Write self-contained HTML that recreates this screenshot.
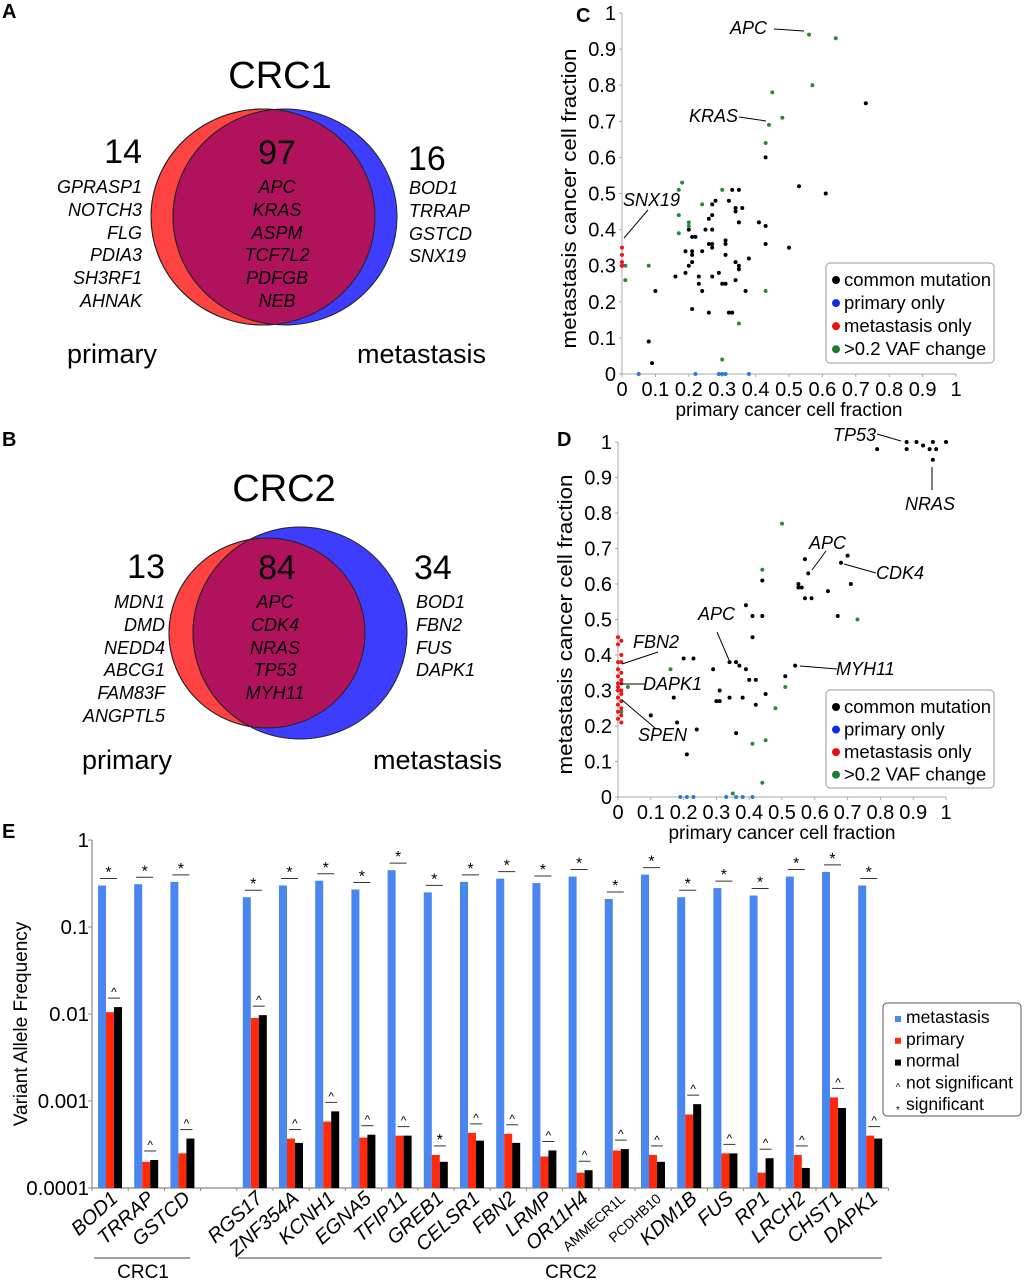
<!DOCTYPE html>
<html><head><meta charset="utf-8"><style>
html,body{margin:0;padding:0;background:#fff;}
svg{display:block;font-family:"Liberation Sans",Arial,sans-serif;}
.it{font-style:italic;}
</style></head><body>
<svg id="fig" width="1032" height="1280" viewBox="0 0 1032 1280" xmlns="http://www.w3.org/2000/svg">
<text x="2" y="18" font-size="20" font-weight="bold">A</text>
<text x="2" y="446" font-size="20" font-weight="bold">B</text>
<text x="576" y="22" font-size="20" font-weight="bold">C</text>
<text x="557" y="446" font-size="20" font-weight="bold">D</text>
<text x="2" y="838" font-size="20" font-weight="bold">E</text>

<g>
<defs>
<clipPath id="clipR1"><ellipse cx="263" cy="217" rx="112" ry="108"/></clipPath>
<clipPath id="clipR2"><ellipse cx="267" cy="633" rx="98" ry="95"/></clipPath>
</defs>
<ellipse cx="263" cy="217" rx="112" ry="108" fill="#ff4242" stroke="#222" stroke-width="1"/>
<ellipse cx="285" cy="217" rx="112" ry="108" fill="#3d3dff" stroke="#222" stroke-width="1"/>
<ellipse cx="285" cy="217" rx="112" ry="108" fill="#b0125e" stroke="#222" stroke-width="1" clip-path="url(#clipR1)"/>
<ellipse cx="263" cy="217" rx="112" ry="108" fill="none" stroke="#222" stroke-width="1"/>
<text x="280" y="88" font-size="38" text-anchor="middle">CRC1</text>
<text x="142" y="163" font-size="34" text-anchor="end">14</text>
<text x="277" y="164" font-size="34" text-anchor="middle">97</text>
<text x="408" y="170" font-size="34">16</text>
<g class="it" font-size="18" text-anchor="end">
<text x="142" y="193">GPRASP1</text><text x="142" y="216">NOTCH3</text><text x="142" y="239">FLG</text><text x="142" y="261">PDIA3</text><text x="142" y="284">SH3RF1</text><text x="142" y="307">AHNAK</text></g>
<g class="it" font-size="18" text-anchor="middle">
<text x="277" y="193">APC</text><text x="277" y="216">KRAS</text><text x="277" y="239">ASPM</text><text x="277" y="261">TCF7L2</text><text x="277" y="284">PDFGB</text><text x="277" y="307">NEB</text></g>
<g class="it" font-size="18">
<text x="409" y="194">BOD1</text><text x="409" y="217">TRRAP</text><text x="409" y="240">GSTCD</text><text x="409" y="262">SNX19</text></g>
<text x="67" y="363" font-size="27">primary</text>
<text x="357" y="363" font-size="27">metastasis</text>
</g>

<g>
<ellipse cx="267" cy="633" rx="98" ry="95" fill="#ff4242" stroke="#222" stroke-width="1"/>
<ellipse cx="300" cy="633" rx="107" ry="106" fill="#3d3dff" stroke="#222" stroke-width="1"/>
<ellipse cx="300" cy="633" rx="107" ry="106" fill="#b0125e" stroke="#222" stroke-width="1" clip-path="url(#clipR2)"/>
<ellipse cx="267" cy="633" rx="98" ry="95" fill="none" stroke="#222" stroke-width="1"/>
<text x="284" y="501" font-size="38" text-anchor="middle">CRC2</text>
<text x="165" y="578" font-size="34" text-anchor="end">13</text>
<text x="277" y="579" font-size="34" text-anchor="middle">84</text>
<text x="414" y="579" font-size="34">34</text>
<g class="it" font-size="18" text-anchor="end">
<text x="165" y="608">MDN1</text><text x="165" y="631">DMD</text><text x="165" y="654">NEDD4</text><text x="165" y="676">ABCG1</text><text x="165" y="699">FAM83F</text><text x="165" y="722">ANGPTL5</text></g>
<g class="it" font-size="18" text-anchor="middle">
<text x="275" y="608">APC</text><text x="275" y="631">CDK4</text><text x="275" y="654">NRAS</text><text x="275" y="676">TP53</text><text x="275" y="699">MYH11</text></g>
<g class="it" font-size="18">
<text x="416" y="608">BOD1</text><text x="416" y="631">FBN2</text><text x="416" y="654">FUS</text><text x="416" y="676">DAPK1</text></g>
<text x="82" y="769" font-size="27">primary</text>
<text x="373" y="769" font-size="27">metastasis</text>
</g>

<g id="scatC"></g>
<g id="scatD"></g>
<g id="bars"></g>
</svg>
<script>
const cBlackX=[0.73,0.43,0.53,0.61,0.50,0.43,0.41,0.43,0.33,0.35,0.32,0.28,0.27,0.34,0.34,0.36,0.35,0.27,0.26,0.25,0.27,0.20,0.21,0.22,0.19,0.21,0.21,0.24,0.26,0.27,0.27,0.31,0.31,0.31,0.38,0.34,0.35,0.35,0.21,0.20,0.16,0.19,0.23,0.27,0.29,0.30,0.31,0.23,0.34,0.24,0.37,0.10,0.21,0.26,0.32,0.33,0.08,0.09];
const cBlackY=[0.75,0.60,0.52,0.50,0.35,0.41,0.42,0.36,0.51,0.51,0.48,0.48,0.47,0.46,0.45,0.46,0.42,0.44,0.43,0.40,0.40,0.40,0.38,0.38,0.34,0.34,0.33,0.34,0.36,0.36,0.35,0.37,0.36,0.33,0.32,0.31,0.30,0.29,0.31,0.30,0.27,0.28,0.27,0.27,0.28,0.25,0.25,0.25,0.26,0.23,0.23,0.23,0.18,0.17,0.17,0.17,0.09,0.03];
const cGreenX=[0.56,0.64,0.57,0.45,0.48,0.44,0.43,0.18,0.17,0.30,0.24,0.17,0.20,0.20,0.17,0.01,0.08,0.01,0.43,0.35,0.30];
const cGreenY=[0.94,0.93,0.80,0.78,0.71,0.69,0.64,0.53,0.51,0.51,0.47,0.44,0.42,0.41,0.39,0.30,0.30,0.26,0.23,0.14,0.04];
const cRedX=[0,0,0,0,0];
const cRedY=[0.35,0.33,0.31,0.30,0.30];
const cBlueX=[0.05,0.22,0.29,0.30,0.31,0.38];
const cBlueY=[0,0,0,0,0,0];
const dBlackX=[0.79,0.88,0.88,0.91,0.93,0.96,0.95,0.97,0.96,1.0,0.57,0.58,0.68,0.70,0.55,0.55,0.56,0.57,0.59,0.64,0.71,0.67,0.39,0.41,0.44,0.44,0.41,0.34,0.36,0.37,0.39,0.40,0.42,0.54,0.51,0.45,0.42,0.38,0.34,0.30,0.31,0.31,0.29,0.20,0.23,0.17,0.10,0.18,0.24,0.36,0.21];
const dBlackY=[0.98,1.0,0.98,1.0,0.99,1.0,0.98,0.98,0.95,1.0,0.67,0.63,0.66,0.68,0.60,0.59,0.59,0.56,0.56,0.58,0.60,0.51,0.54,0.51,0.51,0.61,0.45,0.38,0.38,0.37,0.36,0.33,0.33,0.37,0.34,0.29,0.26,0.28,0.28,0.27,0.27,0.30,0.36,0.39,0.39,0.28,0.23,0.21,0.19,0.18,0.12];
const dGreenX=[0.50,0.44,0.73,0.16,0.03,0.01,0.01,0.51,0.48,0.41,0.45,0.44,0.35];
const dGreenY=[0.77,0.64,0.50,0.36,0.31,0.27,0.24,0.31,0.25,0.15,0.16,0.04,0.01];
const dRedX=[0,0.01,0,0.01,0,0.01,0,0.01,0,0.01,0,0.01,0,0.01,0,0.01,0,0.01,0,0.01,0,0.01,0,0.01];
const dRedY=[0.45,0.44,0.43,0.40,0.38,0.38,0.36,0.35,0.34,0.33,0.32,0.32,0.31,0.30,0.30,0.29,0.28,0.27,0.26,0.25,0.24,0.23,0.22,0.21];
const dBlueX=[0.19,0.21,0.23,0.33,0.36,0.38,0.41];
const dBlueY=[0,0,0,0,0,0,0];
const ticks=[0,0.1,0.2,0.3,0.4,0.5,0.6,0.7,0.8,0.9,1];
const legendLabels=["common mutation","primary only","metastasis only",">0.2 VAF change"];
const genes=["BOD1","TRRAP","GSTCD","","RGS17","ZNF354A","KCNH1","EGNA5","TFIP11","GREB1","CELSR1","FBN2","LRMP","OR11H4","AMMECR1L","PCDHB10","KDM1B","FUS","RP1","LRCH2","CHST1","DAPK1"];
const metVals=[0.30,0.31,0.33,null,0.22,0.30,0.34,0.27,0.45,0.25,0.33,0.36,0.32,0.38,0.21,0.40,0.22,0.28,0.23,0.38,0.43,0.30];
const priVals=[0.0105,0.0002,0.00025,null,0.009,0.00037,0.00058,0.00038,0.0004,0.00024,0.00043,0.00042,0.00023,0.00015,0.00027,0.00024,0.0007,0.00025,0.00015,0.00024,0.0011,0.0004];
const norVals=[0.012,0.00021,0.00037,null,0.0097,0.00033,0.00076,0.00041,0.0004,0.0002,0.00035,0.00033,0.00027,0.00016,0.00028,0.0002,0.00092,0.00025,0.00022,0.00017,0.00083,0.00037];
const lowSig=["^","^","^","","^","^","^","^","^","*","^","^","^","^","^","^","^","^","^","^","^","^"];
const yTickVals=[1,0.1,0.01,0.001,0.0001];
const yTickLabels=["1","0.1","0.01","0.001","0.0001"];
const barLegend=["metastasis","primary","normal","not significant","significant"];

const NS="http://www.w3.org/2000/svg";
function mk(tag,attrs,parent){const e=document.createElementNS(NS,tag);for(const k in attrs)e.setAttribute(k,attrs[k]);parent.appendChild(e);return e;}

function scatter(gid,box,sets,labels,legendBox){
  const g=document.getElementById(gid);
  const sx=v=>box.x0+v*(box.x1-box.x0), sy=v=>box.y0-v*(box.y0-box.y1);
  const ax=mk('path',{d:`M${box.x0},${box.y1} V${box.y0} H${box.x1}`,fill:'none',stroke:'#aaa','stroke-width':1},g);
  
  
  ticks.forEach(t=>{
    mk('line',{x1:box.x0-3,x2:box.x0,y1:sy(t),y2:sy(t),stroke:'#aaa'},g);
    mk('line',{x1:sx(t),x2:sx(t),y1:box.y0,y2:box.y0+3,stroke:'#aaa'},g);
    const yl=mk('text',{x:box.x0-6,y:sy(t)+7,'font-size':20,'text-anchor':'end'},g);yl.textContent=String(t);
    
    
    const xl=mk('text',{x:sx(t),y:box.y0+22,'font-size':20,'text-anchor':'middle'},g);xl.textContent=String(t);
    
    
  });
  const yt=mk('text',{x:0,y:0,'font-size':20,'text-anchor':'middle',textLength:300,lengthAdjust:'spacingAndGlyphs',transform:`translate(${box.x0-46},${(box.y0+box.y1)/2+5}) rotate(-90)`},g);
  yt.textContent='metastasis cancer cell fraction';
  
  
  const xt=mk('text',{x:(box.x0+box.x1)/2,y:box.y0+42,'font-size':19,'text-anchor':'middle'},g);
  xt.textContent='primary cancer cell fraction';
  
  
  sets.forEach(s=>{
    s.xs.forEach((xv,i)=>{
      const c=mk('circle',{cx:sx(xv),cy:sy(s.ys[i]),r:2,fill:s.color},g);
      
      
    });
  });
  labels.forEach(l=>{
    mk('line',{x1:l.l[0],y1:l.l[1],x2:l.l[2],y2:l.l[3],stroke:'#000','stroke-width':1},g);
    const t=mk('text',{x:l.x,y:l.y,'font-size':18,'font-style':'italic'},g);t.textContent=l.t;
    
    
  });
  const lb=legendBox;
  const r=mk('rect',{x:lb.x,y:lb.y,width:168,height:lb.h,rx:4,fill:'#fff',stroke:'#999'},g);
  
  
  const cols=['#000','#0a2de0','#e81010','#1e7a30'];
  legendLabels.forEach((t,i)=>{
    const yy=lb.y+23+i*(lb.h-10)/3.9;
    mk('circle',{cx:lb.x+10,cy:yy-6,r:4,fill:cols[i]},g);
    const tx=mk('text',{x:lb.x+18,y:yy,'font-size':18.5},g);tx.textContent=t;
    
    
  });
}
scatter('scatC',{x0:622,x1:956,y0:374,y1:13},[
  {xs:cBlackX,ys:cBlackY,color:'#000',name:'common-mutation-point'},
  {xs:cGreenX,ys:cGreenY,color:'#2a8a3a',name:'vaf-change-point'},
  {xs:cRedX,ys:cRedY,color:'#f01414',name:'metastasis-only-point'},
  {xs:cBlueX,ys:cBlueY,color:'#2a7ad8',name:'primary-only-point'}],
 [{t:'APC',x:730,y:34,l:[774,29,804,31]},{t:'KRAS',x:689,y:122,l:[739,117,766,121]},{t:'SNX19',x:623,y:206,l:[648,210,624,238]}],
 {x:826,y:263,h:100});
scatter('scatD',{x0:618,x1:946,y0:797,y1:442},[
  {xs:dBlackX,ys:dBlackY,color:'#000',name:'common-mutation-point'},
  {xs:dGreenX,ys:dGreenY,color:'#2a8a3a',name:'vaf-change-point'},
  {xs:dRedX,ys:dRedY,color:'#f01414',name:'metastasis-only-point'},
  {xs:dBlueX,ys:dBlueY,color:'#2a7ad8',name:'primary-only-point'}],
 [{t:'TP53',x:833,y:441,l:[877,434,901,441]},{t:'NRAS',x:905,y:510,l:[932,467,932,490]},
  {t:'APC',x:809,y:549,l:[826,551,812,570]},{t:'CDK4',x:876,y:579,l:[844,564,876,573]},
  {t:'APC',x:698,y:620,l:[717,632,729,660]},{t:'MYH11',x:836,y:675,l:[800,666,837,669]},
  {t:'FBN2',x:633,y:648,l:[658,652,622,664]},{t:'DAPK1',x:643,y:690,l:[620,684,646,684]},
  {t:'SPEN',x:638,y:741,l:[655,728,622,700]}],
 {x:826,y:690,h:98});

(function(){
  const g=document.getElementById('bars');
  const X0=92, slot=36.2, yTop=840, yBot=1188;
  const ly=v=>yBot-(Math.log10(v)+4)/4*(yBot-yTop);
  mk('path',{d:`M${X0},${yTop} V${yBot} H${X0+slot*genes.length}`,fill:'none',stroke:'#888','stroke-width':1.2},g);
  yTickVals.forEach((v,i)=>{
    mk('line',{x1:X0-4,x2:X0,y1:ly(v),y2:ly(v),stroke:'#888'},g);
    const t=mk('text',{x:X0-3,y:ly(v)+7,'font-size':20.5,'text-anchor':'end'},g);t.textContent=yTickLabels[i];
    
    
  });
  for(let i=0;i<=genes.length;i++) mk('line',{x1:X0+i*slot,x2:X0+i*slot,y1:yBot,y2:yBot+3,stroke:'#888'},g);
  const yt=mk('text',{x:0,y:0,'font-size':19,'text-anchor':'middle',transform:`translate(27,1024) rotate(-90)`},g);
  yt.textContent='Variant Allele Frequency';
  
  
  genes.forEach((gn,i)=>{
    if(metVals[i]===null) return;
    const bx=X0+i*slot+6;
    const vals=[metVals[i],priVals[i],norVals[i]], cols=['#4a86f0','#ff2a0a','#000'];
    vals.forEach((v,k)=>{
      const r=mk('rect',{x:bx+k*8,y:ly(v),width:8,height:yBot-ly(v),fill:cols[k]},g);
      
      
    });
    const t1=ly(metVals[i])-7;
    mk('line',{x1:bx+2,x2:bx+19,y1:t1,y2:t1,stroke:'#333'},g);
    const s1=mk('text',{x:bx+10.5,y:t1-1,'font-size':16,'text-anchor':'middle'},g);s1.textContent='*';
    const t2=ly(Math.max(priVals[i],norVals[i]))-9;
    mk('line',{x1:bx+10,x2:bx+22,y1:t2,y2:t2,stroke:'#333'},g);
    const s2=mk('text',{x:bx+16,y:lowSig[i]==='*'?t2-1:t2-2,'font-size':lowSig[i]==='*'?16:12,'text-anchor':'middle'},g);s2.textContent=lowSig[i];
    const cx=X0+i*slot+slot/2+9;
    const small=(gn==='AMMECR1L'||gn==='PCDHB10');
    const lab=mk('text',{x:0,y:0,'font-size':small?14:20,'font-style':small?'normal':'italic','text-anchor':'end',transform:`translate(${cx},1200) rotate(-42)`},g);
    lab.textContent=gn;
    
    
  });
  mk('line',{x1:94,x2:190,y1:1258,y2:1258,stroke:'#666','stroke-width':1.2},g);
  mk('line',{x1:238,x2:882,y1:1258,y2:1258,stroke:'#666','stroke-width':1.2},g);
  const c1=mk('text',{x:143,y:1278,'font-size':19,'text-anchor':'middle'},g);c1.textContent='CRC1';
  
  
  const c2=mk('text',{x:571,y:1278,'font-size':19,'text-anchor':'middle'},g);c2.textContent='CRC2';
  
  
  const lg=mk('rect',{x:883,y:1003,width:138,height:113,rx:4,fill:'#fff',stroke:'#555'},g);
  
  
  const lc=['#4a86f0','#ff2a0a','#000'];
  barLegend.forEach((t,i)=>{
    const yy=1023+i*21.8;
    if(i<3) mk('rect',{x:895,y:yy-7,width:6,height:6,fill:lc[i]},g);
    else {const m=mk('text',{x:898,y:yy+(i===3?2:3),'font-size':10,'text-anchor':'middle'},g);m.textContent=i===3?'^':'*';}
    const tx=mk('text',{x:906,y:yy,'font-size':17.5},g);tx.textContent=t;
    
    
  });
})();
</script>
</body></html>
